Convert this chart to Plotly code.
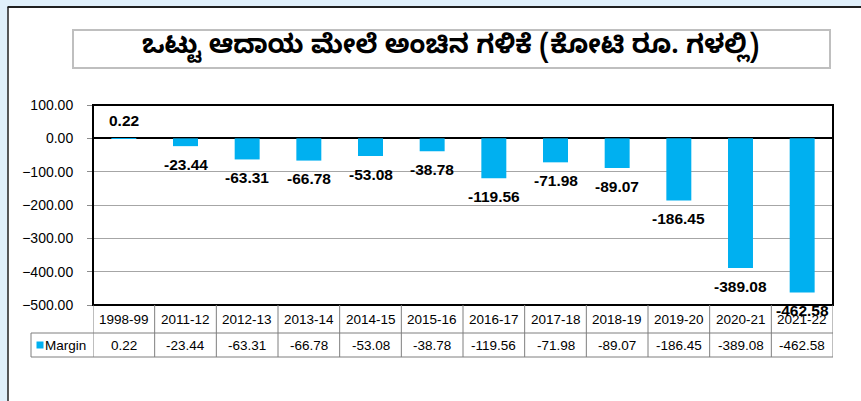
import plotly.graph_objects as go

title_text = "ಒಟ್ಟು ಆದಾಯ ಮೇಲೆ ಅಂಚಿನ ಗಳಿಕೆ (ಕೋಟಿ ರೂ. ಗಳಲ್ಲಿ)"
categories = ["1998-99", "2011-12", "2012-13", "2013-14", "2014-15", "2015-16",
              "2016-17", "2017-18", "2018-19", "2019-20", "2020-21", "2021-22"]
margin_values = [0.22, -23.44, -63.31, -66.78, -53.08, -38.78,
                 -119.56, -71.98, -89.07, -186.45, -389.08, -462.58]
series_name = "Margin"
y_ticks = [100, 0, -100, -200, -300, -400, -500]

BAR = "#00b0f0"
FONT = "Liberation Sans, Arial, sans-serif"
W, H = 861, 401
L, R, T, B = 93, 28, 105, 96
pw = W - L - R
ph = H - T - B

fig = go.Figure()
fig.add_trace(go.Bar(x=categories, y=margin_values, marker=dict(color=BAR, line=dict(width=0)),
                     name=series_name, showlegend=False, hoverinfo="x+y"))

shapes = []
ann = []

def px_x(p):
    return (p - L) / pw

def px_y(p):
    return 1 - (p - T) / ph

# outer background strips
shapes.append(dict(type="rect", xref="paper", yref="paper", x0=px_x(0), x1=px_x(W), y0=px_y(0), y1=px_y(7),
                   fillcolor="#e0f0fb", line=dict(width=0), layer="below"))
shapes.append(dict(type="rect", xref="paper", yref="paper", x0=px_x(0), x1=px_x(7.5), y0=px_y(0), y1=px_y(H),
                   fillcolor="#e0f0fb", line=dict(width=0), layer="below"))
shapes.append(dict(type="line", xref="paper", yref="paper", x0=px_x(7.5), x1=px_x(W), y0=px_y(7), y1=px_y(7),
                   line=dict(color="#202020", width=2)))
shapes.append(dict(type="line", xref="paper", yref="paper", x0=px_x(8), x1=px_x(8), y0=px_y(7), y1=px_y(H),
                   line=dict(color="#202020", width=1.5)))

# title box
shapes.append(dict(type="rect", xref="paper", yref="paper", x0=px_x(73), x1=px_x(830), y0=px_y(68), y1=px_y(30),
                   line=dict(color="#bfbfbf", width=2), fillcolor="white"))
ann.append(dict(text="<b>" + title_text + "</b>", xref="paper", yref="paper", x=px_x(450), y=px_y(49),
                showarrow=False, xanchor="center", yanchor="middle",
                font=dict(size=26, color="black", family="Noto Sans Kannada, Noto Sans, sans-serif")))

# plot frame
shapes.append(dict(type="rect", xref="paper", yref="paper", x0=0, x1=1, y0=0, y1=1,
                   line=dict(color="black", width=2)))

# data labels
for c, v in zip(categories, margin_values):
    ann.append(dict(text="<b>%.2f</b>" % v, x=c, y=v, xref="x", yref="y", showarrow=False,
                    xanchor="center", yanchor="middle", yshift=18 if v >= 0 else -18,
                    font=dict(size=15.5, color="black", family=FONT)))

# data table
row1_mid = px_y(319.5)
row2_mid = px_y(345)
line_top = px_y(333)
line_bot = px_y(357)
tcol = "#7f7f7f"
n = len(categories)
for i in range(n + 1):
    shapes.append(dict(type="line", xref="x", yref="paper", x0=i - 0.5, x1=i - 0.5, y0=line_bot, y1=0,
                       line=dict(color=tcol, width=1)))
for yy in (line_top, line_bot):
    shapes.append(dict(type="line", xref="paper", yref="paper", x0=px_x(31), x1=1, y0=yy, y1=yy,
                       line=dict(color=tcol, width=1)))
shapes.append(dict(type="line", xref="paper", yref="paper", x0=px_x(31), x1=px_x(31), y0=line_bot, y1=line_top,
                   line=dict(color=tcol, width=1)))
for c, v in zip(categories, margin_values):
    ann.append(dict(text=c, x=c, y=row1_mid, xref="x", yref="paper", showarrow=False,
                    xanchor="center", yanchor="middle", font=dict(size=13.5, color="black", family=FONT)))
    ann.append(dict(text="%.2f" % v, x=c, y=row2_mid, xref="x", yref="paper", showarrow=False,
                    xanchor="center", yanchor="middle", font=dict(size=13.5, color="black", family=FONT)))
ann.append(dict(text=series_name, xref="paper", yref="paper",
                x=0, y=row2_mid, xanchor="right", yanchor="middle", xshift=-5, showarrow=False,
                font=dict(size=13.5, color="black", family=FONT)))
# legend key square
shapes.append(dict(type="rect", xref="paper", yref="paper", x0=px_x(36.5), x1=px_x(43.5),
                   y0=px_y(348.5), y1=px_y(341.5), fillcolor=BAR, line=dict(width=0)))

fig.update_layout(
    width=W, height=H,
    margin=dict(l=L, r=R, t=T, b=B, pad=0),
    paper_bgcolor="white", plot_bgcolor="white",
    bargap=0.595,
    showlegend=False,
    xaxis=dict(type="category", range=[-0.5, n - 0.5], showticklabels=False, showgrid=False,
               zeroline=False, showline=False, ticks=""),
    yaxis=dict(range=[-500, 100], tickvals=y_ticks, tickformat=".2f", ticks="outside", ticklen=5,
               tickcolor="#8c8c8c", showgrid=True, gridcolor="#a6a6a6", gridwidth=1,
               zeroline=True, zerolinecolor="black", zerolinewidth=1.5, showline=False,
               tickfont=dict(size=14, color="black", family=FONT), ticklabelstandoff=11),
    shapes=shapes,
    annotations=ann,
)

fig.write_html("out.html", config={"displayModeBar": False},
               post_script="document.body.style.margin='0';document.body.style.overflow='hidden';")
